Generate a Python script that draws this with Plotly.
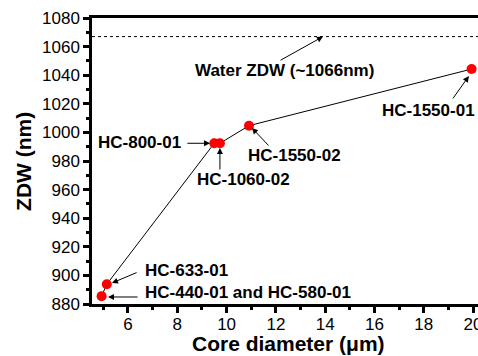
import plotly.graph_objects as go

# Data
fiber_names = ["HC-440-01 and HC-580-01", "HC-633-01", "HC-800-01", "HC-1060-02", "HC-1550-02", "HC-1550-01"]
core_diameter = [4.93, 5.14, 9.50, 9.73, 10.91, 19.94]
zdw = [885.5, 893.8, 992.4, 992.4, 1004.7, 1044.3]
water_zdw = 1067
x_range = [4.54, 20.2]
y_range = [880, 1080]
x_ticks = [6, 8, 10, 12, 14, 16, 18, 20]
y_ticks = list(range(880, 1081, 20))

# Label placement (text position, arrow tail, arrow head) in data units
labels = [
    # text, tx, ty, xanchor, tail_x, tail_y, head_x, head_y
    ("Water ZDW (~1066nm)", 12.35, 1043.0, "center", 12.13, 1049.9, 13.91, water_zdw),
    ("HC-1550-01", 18.21, 1015.0, "center", 19.14, 1022.7, 19.83, 1039.4),
    ("HC-1550-02", 12.75, 983.5, "center", 11.76, 989.8, 11.03, 1003.1),
    ("HC-800-01", 8.25, 992.6, "right", 8.35, 992.4, 9.33, 992.4),
    ("HC-1060-02", 10.67, 967.4, "center", 9.73, 973.0, 9.73, 989.1),
    ("HC-633-01", 6.61, 903.1, "left", 6.41, 902.4, 5.35, 894.7),
    ("HC-440-01 and HC-580-01", 6.61, 887.7, "left", 6.45, 884.9, 5.19, 884.9),
]

font_family = "Liberation Sans, Arial, sans-serif"

fig = go.Figure()

fig.add_trace(go.Scatter(
    x=x_range, y=[water_zdw, water_zdw], mode="lines",
    line=dict(color="black", width=1, dash="dot"), hoverinfo="skip", showlegend=False,
))
fig.add_trace(go.Scatter(
    x=core_diameter, y=zdw, mode="lines+markers",
    line=dict(color="black", width=1),
    marker=dict(color="red", size=10, line=dict(width=0)),
    text=fiber_names, showlegend=False,
))

annotations = []
for text, tx, ty, xa, tlx, tly, hx, hy in labels:
    annotations.append(dict(
        x=tx, y=ty, xref="x", yref="y", text="<b>%s</b>" % text, showarrow=False,
        xanchor=xa, yanchor="middle", font=dict(family=font_family, size=17, color="black"),
    ))
    annotations.append(dict(
        x=hx, y=hy, ax=tlx, ay=tly, xref="x", yref="y", axref="x", ayref="y", text="",
        showarrow=True, arrowhead=2, arrowsize=1.2, arrowwidth=1, arrowcolor="black",
    ))

# Axis titles
annotations.append(dict(
    x=-0.179, y=0.5, xref="paper", yref="paper", text="<b>ZDW (nm)</b>", showarrow=False,
    textangle=-90, xanchor="center", yanchor="middle",
    font=dict(family=font_family, size=21, color="black"),
))
annotations.append(dict(
    x=0.51, y=-0.138, xref="paper", yref="paper", text="<b>Core diameter (μm)</b>", showarrow=False,
    xanchor="center", yanchor="middle",
    font=dict(family=font_family, size=21, color="black"),
))

fig.update_layout(
    width=478, height=356,
    margin=dict(l=92, r=0, t=18, b=52, autoexpand=False),
    paper_bgcolor="white", plot_bgcolor="white",
    annotations=annotations,
    font=dict(family=font_family, color="black"),
)
fig.update_xaxes(
    range=x_range, tickvals=x_ticks, showgrid=False, zeroline=False, automargin=False,
    showline=True, linewidth=2.5, linecolor="black", mirror=True,
    ticks="outside", ticklen=6, tickwidth=2.5, tickcolor="black",
    minor=dict(dtick=1, ticks="outside", ticklen=3, tickwidth=2.5, tickcolor="black", showgrid=False),
    tickfont=dict(family=font_family, size=17, color="black"),
    ticklabeloverflow="allow", ticklabelstandoff=-3,
)
fig.update_yaxes(
    range=y_range, tickvals=y_ticks, showgrid=False, zeroline=False, automargin=False,
    showline=True, linewidth=2.5, linecolor="black", mirror=False,
    ticks="outside", ticklen=6, tickwidth=2.5, tickcolor="black",
    minor=dict(dtick=10, ticks="outside", ticklen=3, tickwidth=2.5, tickcolor="black", showgrid=False),
    tickfont=dict(family=font_family, size=17, color="black"),
)

fig.write_html(
    "out.html",
    config={"displayModeBar": False},
    post_script="document.body.style.margin='0';document.body.style.overflow='hidden';",
)
